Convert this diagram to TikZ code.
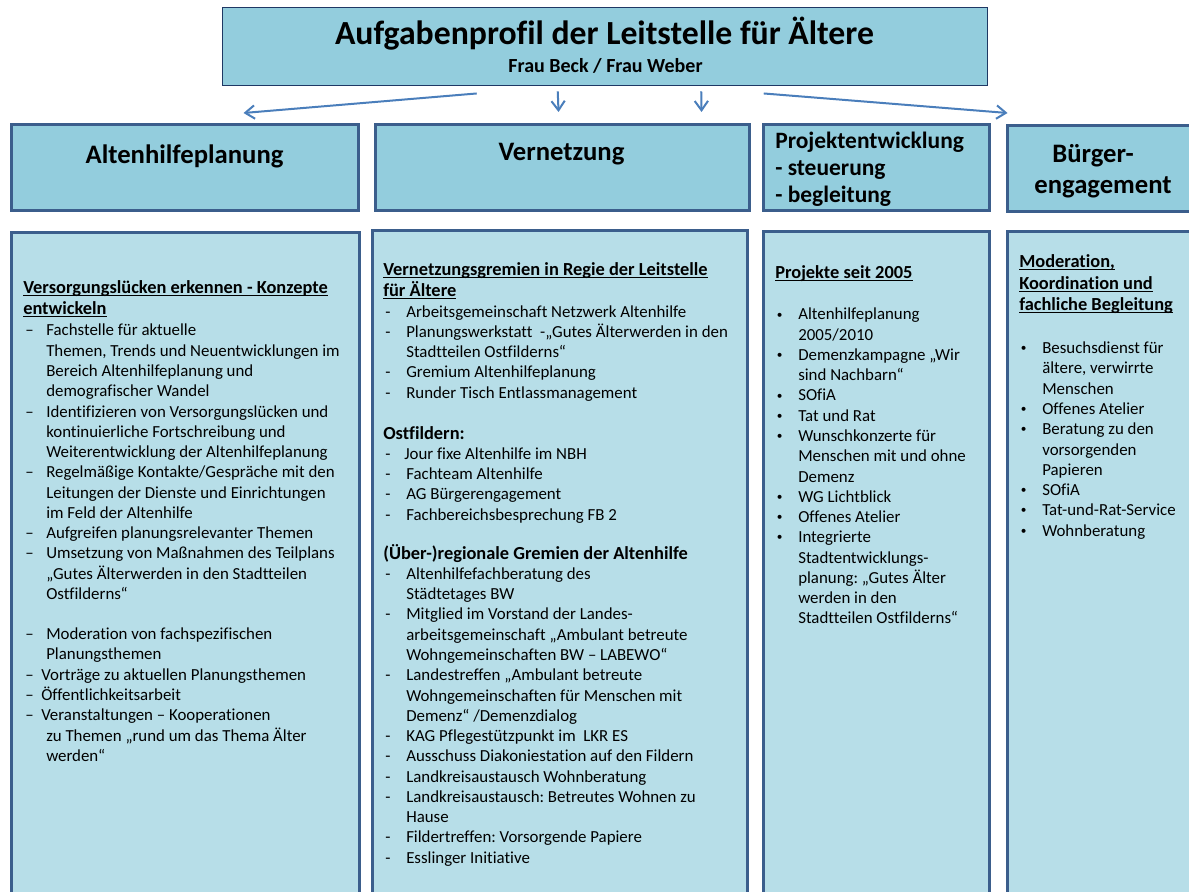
\documentclass[tikz,border=0pt]{standalone}
\usepackage{fontspec}
\setmainfont{Carlito}[Ligatures={TeX,NoCommon}]
\usetikzlibrary{arrows.meta}
\frenchspacing
\definecolor{hdrfill}{HTML}{93CDDD}
\definecolor{bodyfill}{HTML}{B7DEE8}
\definecolor{boxline}{HTML}{3B5E8C}
\definecolor{titleline}{HTML}{1F3864}
\definecolor{arrowc}{HTML}{4A7EBB}
\newsavebox\ulbox
\newcommand\myul[1]{\sbox\ulbox{#1}\rlap{\rule[-1.9pt]{\wd\ulbox}{0.8pt}}\usebox\ulbox}
\newcommand\hd[1]{{\fontsize{13.8pt}{15.2pt}\selectfont\bfseries\myul{#1}}}
\newcommand\hb[1]{{\fontsize{13.8pt}{15.2pt}\selectfont\bfseries #1}}
\newcommand\itD[1]{\makebox[17.25pt][l]{\hspace{1.5pt}–}#1}
\newcommand\itE[1]{\makebox[13.5pt][l]{\hspace{1.5pt}–}#1}
\newcommand\itH[1]{\makebox[17.25pt][l]{\hspace{1.5pt}-}#1}
\newcommand\itJ[1]{\makebox[15.75pt][l]{\hspace{1.5pt}-}#1}
\newcommand\itB[1]{\makebox[17.25pt][l]{\hspace{1.2pt}\raisebox{1.4pt}{\fontsize{8.5pt}{8.5pt}\selectfont•}}#1}
\newcommand\cnt[1]{\makebox[17.25pt]{}#1}
\newcommand\pbox[6]{\node[#6, anchor=north west, inner sep=0pt,
  minimum width={(#4-#2)*0.75pt}, minimum height={(#5-#3)*0.75pt}] (#1) at (#2,#3) {};}
\begin{document}
\frenchspacing
\begin{tikzpicture}[x=0.75pt, y=-0.75pt,
  titlebox/.style={draw=titleline, fill=hdrfill, line width=1.1pt},
  hdrbox/.style={draw=boxline, fill=hdrfill, line width=2.3pt},
  bodybox/.style={draw=boxline, fill=bodyfill, line width=2pt},
  bodytext/.style={anchor=north west, inner sep=0pt, align=left,
    font=\fontsize{12.65pt}{15.2pt}\selectfont\frenchspacing},
  hdrtext/.style={anchor=base, inner sep=0pt, font=\fontsize{20pt}{24pt}\selectfont\bfseries},
  arr/.style={draw=arrowc, line width=1.5pt,
    -{Straight Barb[length=7pt,width=10pt,line width=1.5pt]}}]
\path[use as bounding box, clip] (0,0) rectangle (1189,892);
% boxes
\pbox{title}{222}{7}{987}{85}{titlebox}
\pbox{h1}{10}{123}{357}{209}{hdrbox}
\pbox{h2}{374}{123}{748}{209}{hdrbox}
\pbox{h3}{762}{123}{988}{209}{hdrbox}
\pbox{h4}{1006}{124}{1200}{210}{hdrbox}
\pbox{c1}{10}{231}{358}{910}{bodybox}
\pbox{c2}{371}{229}{746}{910}{bodybox}
\pbox{c3}{762}{230}{988}{910}{bodybox}
\pbox{c4}{1006}{230}{1200}{910}{bodybox}
% title texts
\node[anchor=base, inner sep=0pt, font=\fontsize{25.3pt}{30pt}\selectfont\bfseries] (ttl) at (604.5,45) {Aufgabenprofil der Leitstelle für Ältere};
\node[anchor=base, inner sep=0pt, font=\fontsize{15pt}{18pt}\selectfont\bfseries] (sub) at (605.5,73) {Frau Beck / Frau Weber};
% header texts
\node[hdrtext] (h1t) at (184.5,163) {Altenhilfeplanung};
\node[hdrtext] (h2t) at (561.5,161) {Vernetzung};
\node[anchor=north west, inner sep=0pt, align=left, font=\fontsize{17.6pt}{20.25pt}\selectfont\bfseries] (h3t) at (775,125.3)
  {\rule{0pt}{17pt}Projektentwicklung\\- steuerung\\- begleitung};
\node[hdrtext] (h4a) at (1093,162) {Bürger-};
\node[hdrtext] (h4b) at (1103,193) {engagement};
% arrows
\draw[arr] ([shift={(-128.5,7)}]title.south) -- ([shift={(58.5,-10)}]h1.north);
\draw[arr] ([shift={(-47.5,5)}]title.south) -- ([shift={(-4,-11)}]h2.north);
\draw[arr] ([shift={(96,5)}]title.south) -- ([shift={(-175,-11)}]h3.north);
\draw[arr] ([shift={(158.5,7)}]title.south) -- ([shift={(-97,-11)}]h4.north);
% content texts
\node[bodytext] (t1) at (23,276.2) {\rule{0pt}{13pt}\hd{Versorgungslücken erkennen - Konzepte}\\[0.6pt]
\hd{entwickeln}\\[0.6pt]
\itD{Fachstelle für aktuelle}\\
\cnt{Themen, Trends und Neuentwicklungen im}\\
\cnt{Bereich Altenhilfeplanung und}\\
\cnt{demografischer Wandel}\\
\itD{Identifizieren von Versorgungslücken und}\\
\cnt{kontinuierliche Fortschreibung und}\\
\cnt{Weiterentwicklung der Altenhilfeplanung}\\
\itD{Regelmäßige Kontakte/Gespräche mit den}\\
\cnt{Leitungen der Dienste und Einrichtungen}\\
\cnt{im Feld der Altenhilfe}\\
\itD{Aufgreifen planungsrelevanter Themen}\\
\itD{Umsetzung von Maßnahmen des Teilplans}\\
\cnt{„Gutes Älterwerden in den Stadtteilen}\\
\cnt{Ostfilderns“}\\[15pt]
\itD{Moderation von fachspezifischen}\\
\cnt{Planungsthemen}\\
\itE{Vorträge zu aktuellen Planungsthemen}\\
\itE{Öffentlichkeitsarbeit}\\
\itE{Veranstaltungen – Kooperationen}\\
\cnt{zu Themen „rund um das Thema Älter}\\
\cnt{werden“}};
\node[bodytext] (t2) at (383,258.2) {\rule{0pt}{13pt}\hd{Vernetzungsgremien in Regie der Leitstelle}\\[0.6pt]
\hd{für Ältere}\\
\itH{Arbeitsgemeinschaft Netzwerk Altenhilfe}\\
\itH{Planungswerkstatt\ \ -„Gutes Älterwerden in den}\\
\cnt{Stadtteilen Ostfilderns“}\\
\itH{Gremium Altenhilfeplanung}\\
\itH{Runder Tisch Entlassmanagement}\\[15.5pt]
\hb{Ostfildern:}\\
\itJ{Jour fixe Altenhilfe im NBH}\\
\itH{Fachteam Altenhilfe}\\
\itH{AG Bürgerengagement}\\
\itH{Fachbereichsbesprechung FB 2}\\[14pt]
\hb{(Über-)regionale Gremien der Altenhilfe}\\
\itH{Altenhilfefachberatung des}\\
\cnt{Städtetages BW}\\
\itH{Mitglied im Vorstand der Landes-}\\
\cnt{arbeitsgemeinschaft „Ambulant betreute}\\
\cnt{Wohngemeinschaften BW – LABEWO“}\\
\itH{Landestreffen „Ambulant betreute}\\
\cnt{Wohngemeinschaften für Menschen mit}\\
\cnt{Demenz“ /Demenzdialog}\\
\itH{KAG Pflegestützpunkt im\ \ LKR ES}\\
\itH{Ausschuss Diakoniestation auf den Fildern}\\
\itH{Landkreisaustausch Wohnberatung}\\
\itH{Landkreisaustausch: Betreutes Wohnen zu}\\
\cnt{Hause}\\
\itH{Fildertreffen: Vorsorgende Papiere}\\
\itH{Esslinger Initiative}};
\node[bodytext] (t3) at (775,260.7) {\rule{0pt}{13pt}\hd{Projekte seit 2005}\\[16pt]
\itB{Altenhilfeplanung}\\
\cnt{2005/2010}\\
\itB{Demenzkampagne „Wir}\\
\cnt{sind Nachbarn“}\\
\itB{SOfiA}\\
\itB{Tat und Rat}\\
\itB{Wunschkonzerte für}\\
\cnt{Menschen mit und ohne}\\
\cnt{Demenz}\\
\itB{WG Lichtblick}\\
\itB{Offenes Atelier}\\
\itB{Integrierte}\\
\cnt{Stadtentwicklungs-}\\
\cnt{planung: „Gutes Älter}\\
\cnt{werden in den}\\
\cnt{Stadtteilen Ostfilderns“}};
\node[bodytext] (t4) at (1019,250.2) {\rule{0pt}{13pt}\hd{Moderation,}\\[0.9pt]
\hd{Koordination und}\\[0.9pt]
\hd{fachliche Begleitung}\\[17pt]
\itB{Besuchsdienst für}\\
\cnt{ältere, verwirrte}\\
\cnt{Menschen}\\
\itB{Offenes Atelier}\\
\itB{Beratung zu den}\\
\cnt{vorsorgenden}\\
\cnt{Papieren}\\
\itB{SOfiA}\\
\itB{Tat-und-Rat-Service}\\
\itB{Wohnberatung}};
\end{tikzpicture}
\end{document}
